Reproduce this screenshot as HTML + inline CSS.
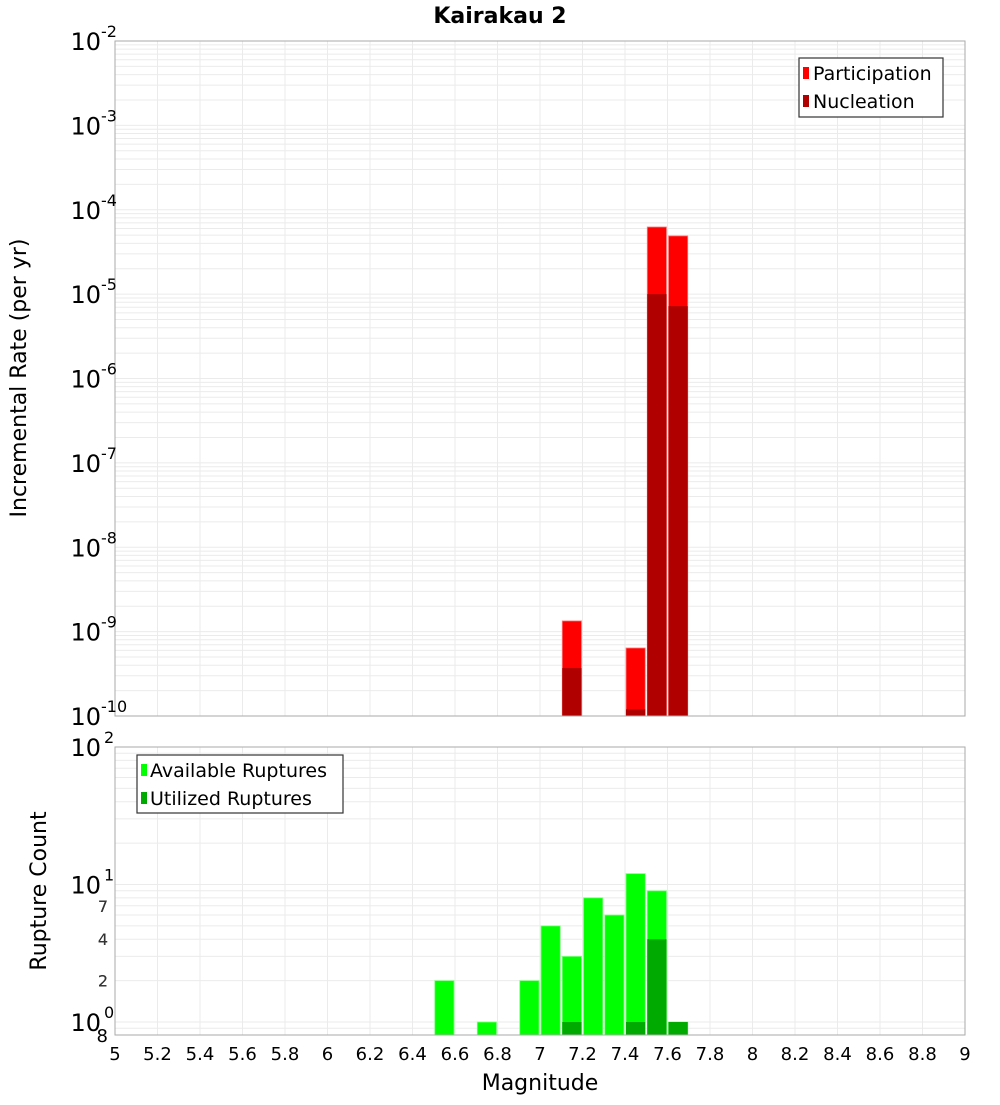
<!DOCTYPE html>
<html><head><meta charset="utf-8"><style>
body{margin:0;background:#fff;}
svg text{font-family:"DejaVu Sans","Liberation Sans",sans-serif;}
</style></head><body>
<svg id="c" width="1000" height="1100" xmlns="http://www.w3.org/2000/svg">
<text x="500" y="23" text-anchor="middle" font-size="22" font-weight="bold">Kairakau 2</text>
<g id="topPanel"></g>
<g id="botPanel"></g>
<text transform="translate(26,378) rotate(-90)" text-anchor="middle" font-size="22">Incremental Rate (per yr)</text>
<text transform="translate(46,891) rotate(-90)" text-anchor="middle" font-size="22">Rupture Count</text>
<text x="540" y="1090" text-anchor="middle" font-size="22">Magnitude</text>
<g>
<rect x="799" y="58" width="144" height="59" fill="#fff" stroke="#333" stroke-width="1.2"/>
<rect x="803" y="67" width="6" height="12" fill="#ff0000"/>
<text x="813" y="80" font-size="19">Participation</text>
<rect x="803" y="95" width="6" height="12" fill="#b00000"/>
<text x="813" y="108" font-size="19">Nucleation</text>
</g>
<g>
<rect x="137" y="755" width="206" height="58" fill="#fff" stroke="#333" stroke-width="1.2"/>
<rect x="141" y="764" width="6" height="12" fill="#00ff00"/>
<text x="150" y="777" font-size="19">Available Ruptures</text>
<rect x="141" y="792" width="6" height="12" fill="#00aa00"/>
<text x="150" y="805" font-size="19">Utilized Ruptures</text>
</g>
</svg>
<script>
const mags=[6.55,6.75,6.95,7.05,7.15,7.25,7.35,7.45,7.55,7.65];
const participation=[0,0,0,0,1.34e-9,0,0,6.4e-10,6.25e-5,4.9e-5];
const nucleation=[0,0,0,0,3.7e-10,0,0,1.2e-10,1.0e-5,7.2e-6];
const available=[2,1,2,5,3,8,6,12,9,1];
const utilized=[0,0,0,0,1,0,0,1,4,1];
const xTicks=[5,5.2,5.4,5.6,5.8,6,6.2,6.4,6.6,6.8,7,7.2,7.4,7.6,7.8,8,8.2,8.4,8.6,8.8,9];
const rateExps=[-2,-3,-4,-5,-6,-7,-8,-9,-10];
const countMinor=[7,4,2,70,40,20];

const NS="http://www.w3.org/2000/svg";
const X0=115,X1=965;
const xs=m=>X0+(m-5)/4*(X1-X0);
const T0=41,T1=716; const ty=v=>T0+(-2-Math.log10(v))*(T1-T0)/8;
const B0=747,B1=1035; const BPD=137.5; const by=v=>B0+(2-Math.log10(v))*BPD;
function el(p,t,a,txt){const e=document.createElementNS(NS,t);for(const k in a)e.setAttribute(k,a[k]);if(txt!==undefined)e.textContent=txt;p.appendChild(e);return e;}
const topG=document.getElementById('topPanel'),botG=document.getElementById('botPanel');
for(let d=-10;d<-2;d++)for(let k=1;k<10;k++){const y=ty(k*Math.pow(10,d));if(y>=T0&&y<=T1){const l=el(topG,'line',{x1:X0,x2:X1,y1:y,y2:y,stroke:'#ebebeb'});}}
for(let d=-1;d<2;d++)for(let k=1;k<10;k++){const y=by(k*Math.pow(10,d));if(y>=B0&&y<=B1){const l=el(botG,'line',{x1:X0,x2:X1,y1:y,y2:y,stroke:'#ebebeb'});}}
xTicks.forEach(t=>{const x=xs(t);
 const a=el(topG,'line',{x1:x,x2:x,y1:T0,y2:T1,stroke:'#ebebeb'});
 const b=el(botG,'line',{x1:x,x2:x,y1:B0,y2:B1,stroke:'#ebebeb'});
 const tl=el(botG,'text',{x:x,y:1060,'text-anchor':'middle','font-size':18},String(t));});
mags.forEach((m,i)=>{const xl=xs(m-0.05)+1,w=xs(m+0.05)-xs(m-0.05)-2;
 if(participation[i]>0){const y=ty(participation[i]);const r=el(topG,'rect',{x:xl,y:y,width:w,height:T1-y,fill:'#ff0000',stroke:'#ff8080','stroke-width':0.8});}
 if(nucleation[i]>0){const y=ty(nucleation[i]);const r=el(topG,'rect',{x:xl,y:y,width:w,height:T1-y,fill:'#b00000'});}
 if(available[i]>0){const y=by(available[i]);const r=el(botG,'rect',{x:xl,y:y,width:w,height:B1-y,fill:'#00ff00',stroke:'#80ff80','stroke-width':0.8});}
 if(utilized[i]>0){const y=by(utilized[i]);const r=el(botG,'rect',{x:xl,y:y,width:w,height:B1-y,fill:'#00aa00'});}
});
el(topG,'rect',{x:X0,y:T0,width:X1-X0,height:T1-T0,fill:'none',stroke:'#aaa'});
el(botG,'rect',{x:X0,y:B0,width:X1-X0,height:B1-B0,fill:'none',stroke:'#aaa'});
rateExps.forEach(e=>{const y=ty(Math.pow(10,e));const t=el(topG,'text',{x:101,y:y+9,'text-anchor':'end','font-size':24},'10');
 const s=el(topG,'text',{x:101,y:y-4,'font-size':16},String(e));});
[[100,'2'],[10,'1'],[1,'0']].forEach(([v,e])=>{const y=by(v);const t=el(botG,'text',{x:101,y:y+9,'text-anchor':'end','font-size':24},'10');
 const s=el(botG,'text',{x:104,y:y-4,'font-size':16},e);});
countMinor.forEach(v=>{const y=by(v/(v>=10?10:1));const t=el(botG,'text',{x:108,y:y+6,'text-anchor':'end','font-size':16,fill:'#333'},String(v>=10?v/10:v));});
const e8=el(botG,'text',{x:108,y:1042,'text-anchor':'end','font-size':18},'8');
</script>
</body></html>
